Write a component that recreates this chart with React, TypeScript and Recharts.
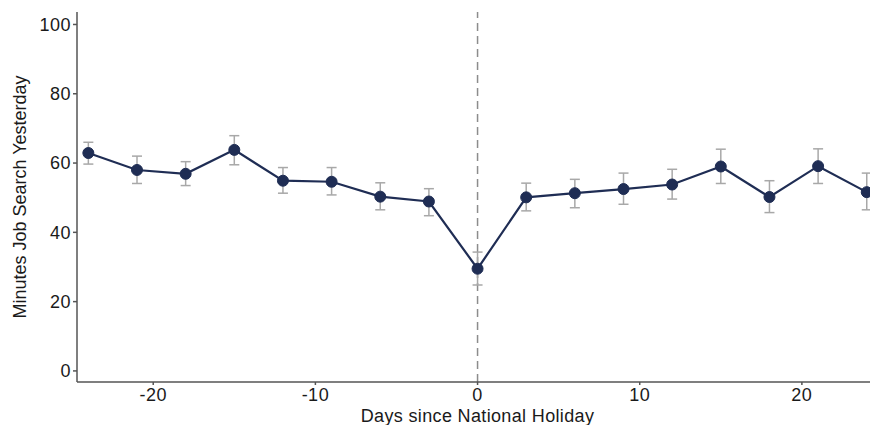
import React from "react";
import {
  LineChart,
  Line,
  XAxis,
  YAxis,
  ErrorBar,
  ReferenceLine,
} from "recharts";

// days relative to the holiday
const days = [-24, -21, -18, -15, -12, -9, -6, -3, 0, 3, 6, 9, 12, 15, 18, 21, 24];
// mean minutes of job search
const minutes = [62.9, 58.0, 56.9, 63.8, 54.9, 54.6, 50.3, 48.9, 29.5, 50.1, 51.3, 52.5, 53.8, 59.0, 50.2, 59.1, 51.6];
// lower / upper bounds of the confidence interval
const ciLow = [59.7, 54.1, 53.5, 59.5, 51.3, 50.8, 46.5, 44.8, 24.8, 46.2, 47.1, 48.1, 49.6, 54.1, 45.7, 54.1, 46.5];
const ciHigh = [66.0, 62.0, 60.4, 67.9, 58.7, 58.7, 54.3, 52.6, 34.3, 54.2, 55.3, 57.1, 58.2, 64.0, 54.9, 64.1, 57.1];

const xTicks = [-20, -10, 0, 10, 20];
const yTicks = [0, 20, 40, 60, 80, 100];

const chartData = days.map((d, i) => ({
  day: d,
  value: minutes[i],
  err: [minutes[i] - ciLow[i], ciHigh[i] - minutes[i]],
}));

const FONT = "Arial, 'Liberation Sans', sans-serif";
const axisColor = "#555555";
const textColor = "#1a1a1a";

const App: React.FC = () => {
  return (
    <div style={{ position: "absolute", left: 0, top: 0, width: 870, height: 425, background: "#fff" }}>
      <LineChart
        width={870}
        height={425}
        data={chartData}
        margin={{ top: 12, right: 0, left: 0, bottom: 0 }}
        style={{ fontFamily: FONT }}
      >
        <XAxis
          dataKey="day"
          type="number"
          domain={[-24.7, 24.2]}
          allowDataOverflow
          ticks={xTicks}
          height={43}
          tickSize={3}
          tickMargin={3}
          tick={{ fontSize: 18, fill: textColor, letterSpacing: 0.5 }}
          stroke={axisColor}
          strokeWidth={1.5}
          label={{
            value: "Days since National Holiday",
            position: "center",
            dx: 4,
            dy: 12,
            fontSize: 18,
            letterSpacing: 0.35,
            fill: textColor,
          }}
        />
        <YAxis
          type="number"
          domain={[-3.2, 103.6]}
          allowDataOverflow
          ticks={yTicks}
          width={77}
          tickSize={4}
          tickMargin={2}
          tick={{ fontSize: 18, fill: textColor, letterSpacing: 0.5 }}
          stroke={axisColor}
          strokeWidth={1.5}
          label={{
            value: "Minutes Job Search Yesterday",
            angle: -90,
            position: "center",
            dx: -19,
            fontSize: 18,
            fill: textColor,
          }}
        />
        <ReferenceLine x={0} stroke="#8c8c8c" strokeWidth={1.5} strokeDasharray="8 5" />
        <Line
          type="linear"
          dataKey="value"
          stroke="#1f2d54"
          strokeWidth={2.2}
          dot={{ r: 5.5, fill: "#1f2d54", stroke: "#1f2d54", strokeWidth: 1 }}
          isAnimationActive={false}
        >
          <ErrorBar dataKey="err" direction="y" width={5} stroke="#a8a8a8" strokeWidth={1.5} />
        </Line>
      </LineChart>
    </div>
  );
};

export default App;
